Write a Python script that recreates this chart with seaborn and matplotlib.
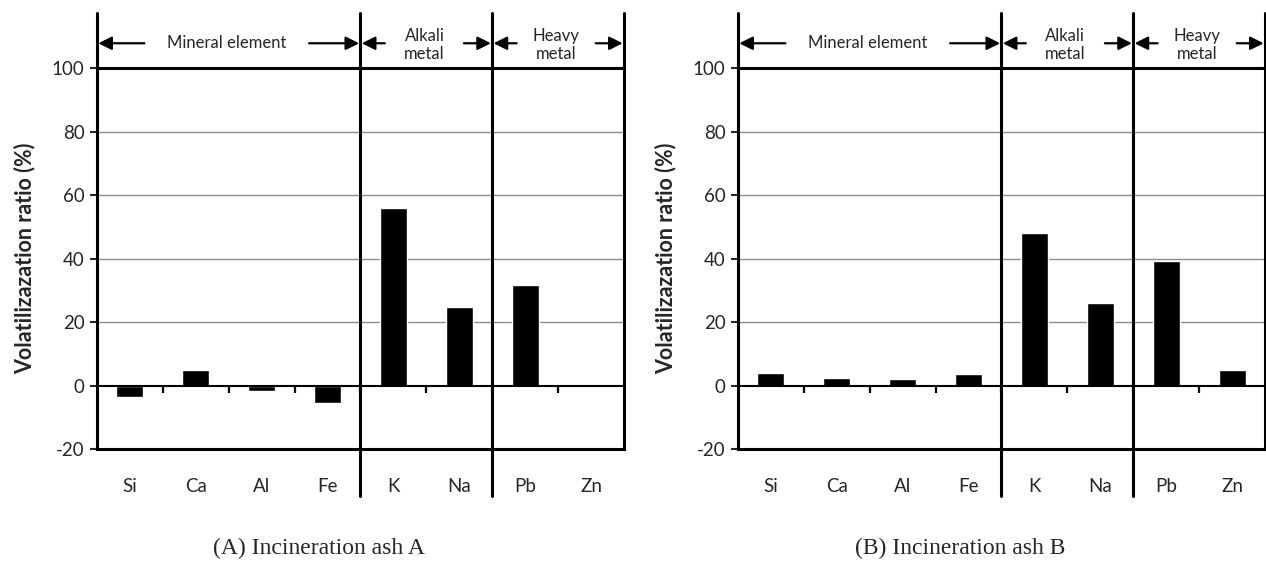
import numpy as np
import pandas as pd
import matplotlib
matplotlib.use('Agg')
import matplotlib.pyplot as plt
import matplotlib.transforms as mtransforms
import seaborn as sns

# Data
elements = ['Si', 'Ca', 'Al', 'Fe', 'K', 'Na', 'Pb', 'Zn']
ash_a = [-3.5, 5.0, -1.8, -5.6, 56.0, 24.8, 31.8, 0.3]
ash_b = [3.8, 2.4, 2.0, 3.5, 48.0, 26.0, 39.3, 4.8]
group_names = ['Mineral element', 'Alkali\nmetal', 'Heavy\nmetal']
group_sizes = [4, 2, 2]
captions = ['(A) Incineration ash A', '(B) Incineration ash B']
ylabel = 'Volatilizazation ratio (%)'

sns.set_style('white')
plt.rcParams['font.family'] = ['Lato', 'DejaVu Sans']
plt.rcParams['axes.unicode_minus'] = False

fig = plt.figure(figsize=(12.66, 5.66), dpi=100)
ax_a = fig.add_axes([0.0766, 0.2067, 0.4163, 0.6731])
ax_b = fig.add_axes([0.5829, 0.2067, 0.4163, 0.6731])

bounds = np.concatenate([[0], np.cumsum(group_sizes)]) - 0.5
# half width (in category units) kept free around each group label
label_half = [1.25, 0.6, 0.6]


def draw_panel(ax, vals, caption):
    df = pd.DataFrame({'element': elements, 'ratio': vals})
    sns.barplot(data=df, x='element', y='ratio', color='black', width=0.41,
                saturation=1, ax=ax)
    ax.set_xlim(-0.5, len(elements) - 0.5)
    ax.set_ylim(-20, 100)
    ax.set_yticks(np.arange(-20, 101, 20))
    for g in range(20, 100, 20):
        ax.axhline(g, color='#8c8c8c', lw=1, zorder=0)
    ax.axhline(0, color='black', lw=1.5, zorder=3)

    for s in ax.spines.values():
        s.set_linewidth(2.2)
        s.set_color('black')

    # small ticks on the zero line between categories
    ax.vlines(np.arange(len(elements) - 1) + 0.5, -2.3, 0, color='black',
              lw=1.6, zorder=3)

    ax.tick_params(axis='y', direction='out', length=5, width=1.5,
                   labelsize=13.5, pad=4, left=True)
    ax.tick_params(axis='x', length=0, labelsize=13.5, pad=21)
    ax.set_xlabel('')
    ax.set_ylabel(ylabel, fontsize=15.5, fontweight='bold', labelpad=12)

    # group separators extending outside the axes
    trans = mtransforms.blended_transform_factory(ax.transData, ax.transAxes)
    for i, b in enumerate(bounds):
        low = 1.0 if i in (0, len(bounds) - 1) else -0.123
        ax.plot([b, b], [low, 1.144], color='black', lw=2.2,
                transform=trans, clip_on=False, zorder=4)

    # group annotations with arrows
    for i, name in enumerate(group_names):
        lo, hi = bounds[i], bounds[i + 1]
        mid = (lo + hi) / 2 - 0.03
        y = 107.8
        ax.text(mid, y + (0 if '\n' not in name else -0.6), name,
                ha='center', va='center', fontsize=12,
                linespacing=1.2, clip_on=False)
        arr = dict(arrowstyle='-|>', color='black', lw=1.6, mutation_scale=20,
                   shrinkA=0, shrinkB=0)
        ax.annotate('', xy=(lo + 0.02, y), xytext=(mid - label_half[i], y),
                    arrowprops=arr, annotation_clip=False)
        ax.annotate('', xy=(hi - 0.02, y), xytext=(mid + label_half[i], y),
                    arrowprops=arr, annotation_clip=False)

    ax.text(0.422, -0.26, caption, transform=ax.transAxes, ha='center',
            va='center', fontsize=17, family='Liberation Serif')


draw_panel(ax_a, ash_a, captions[0])
draw_panel(ax_b, ash_b, captions[1])

fig.savefig('out.png', dpi=100)
